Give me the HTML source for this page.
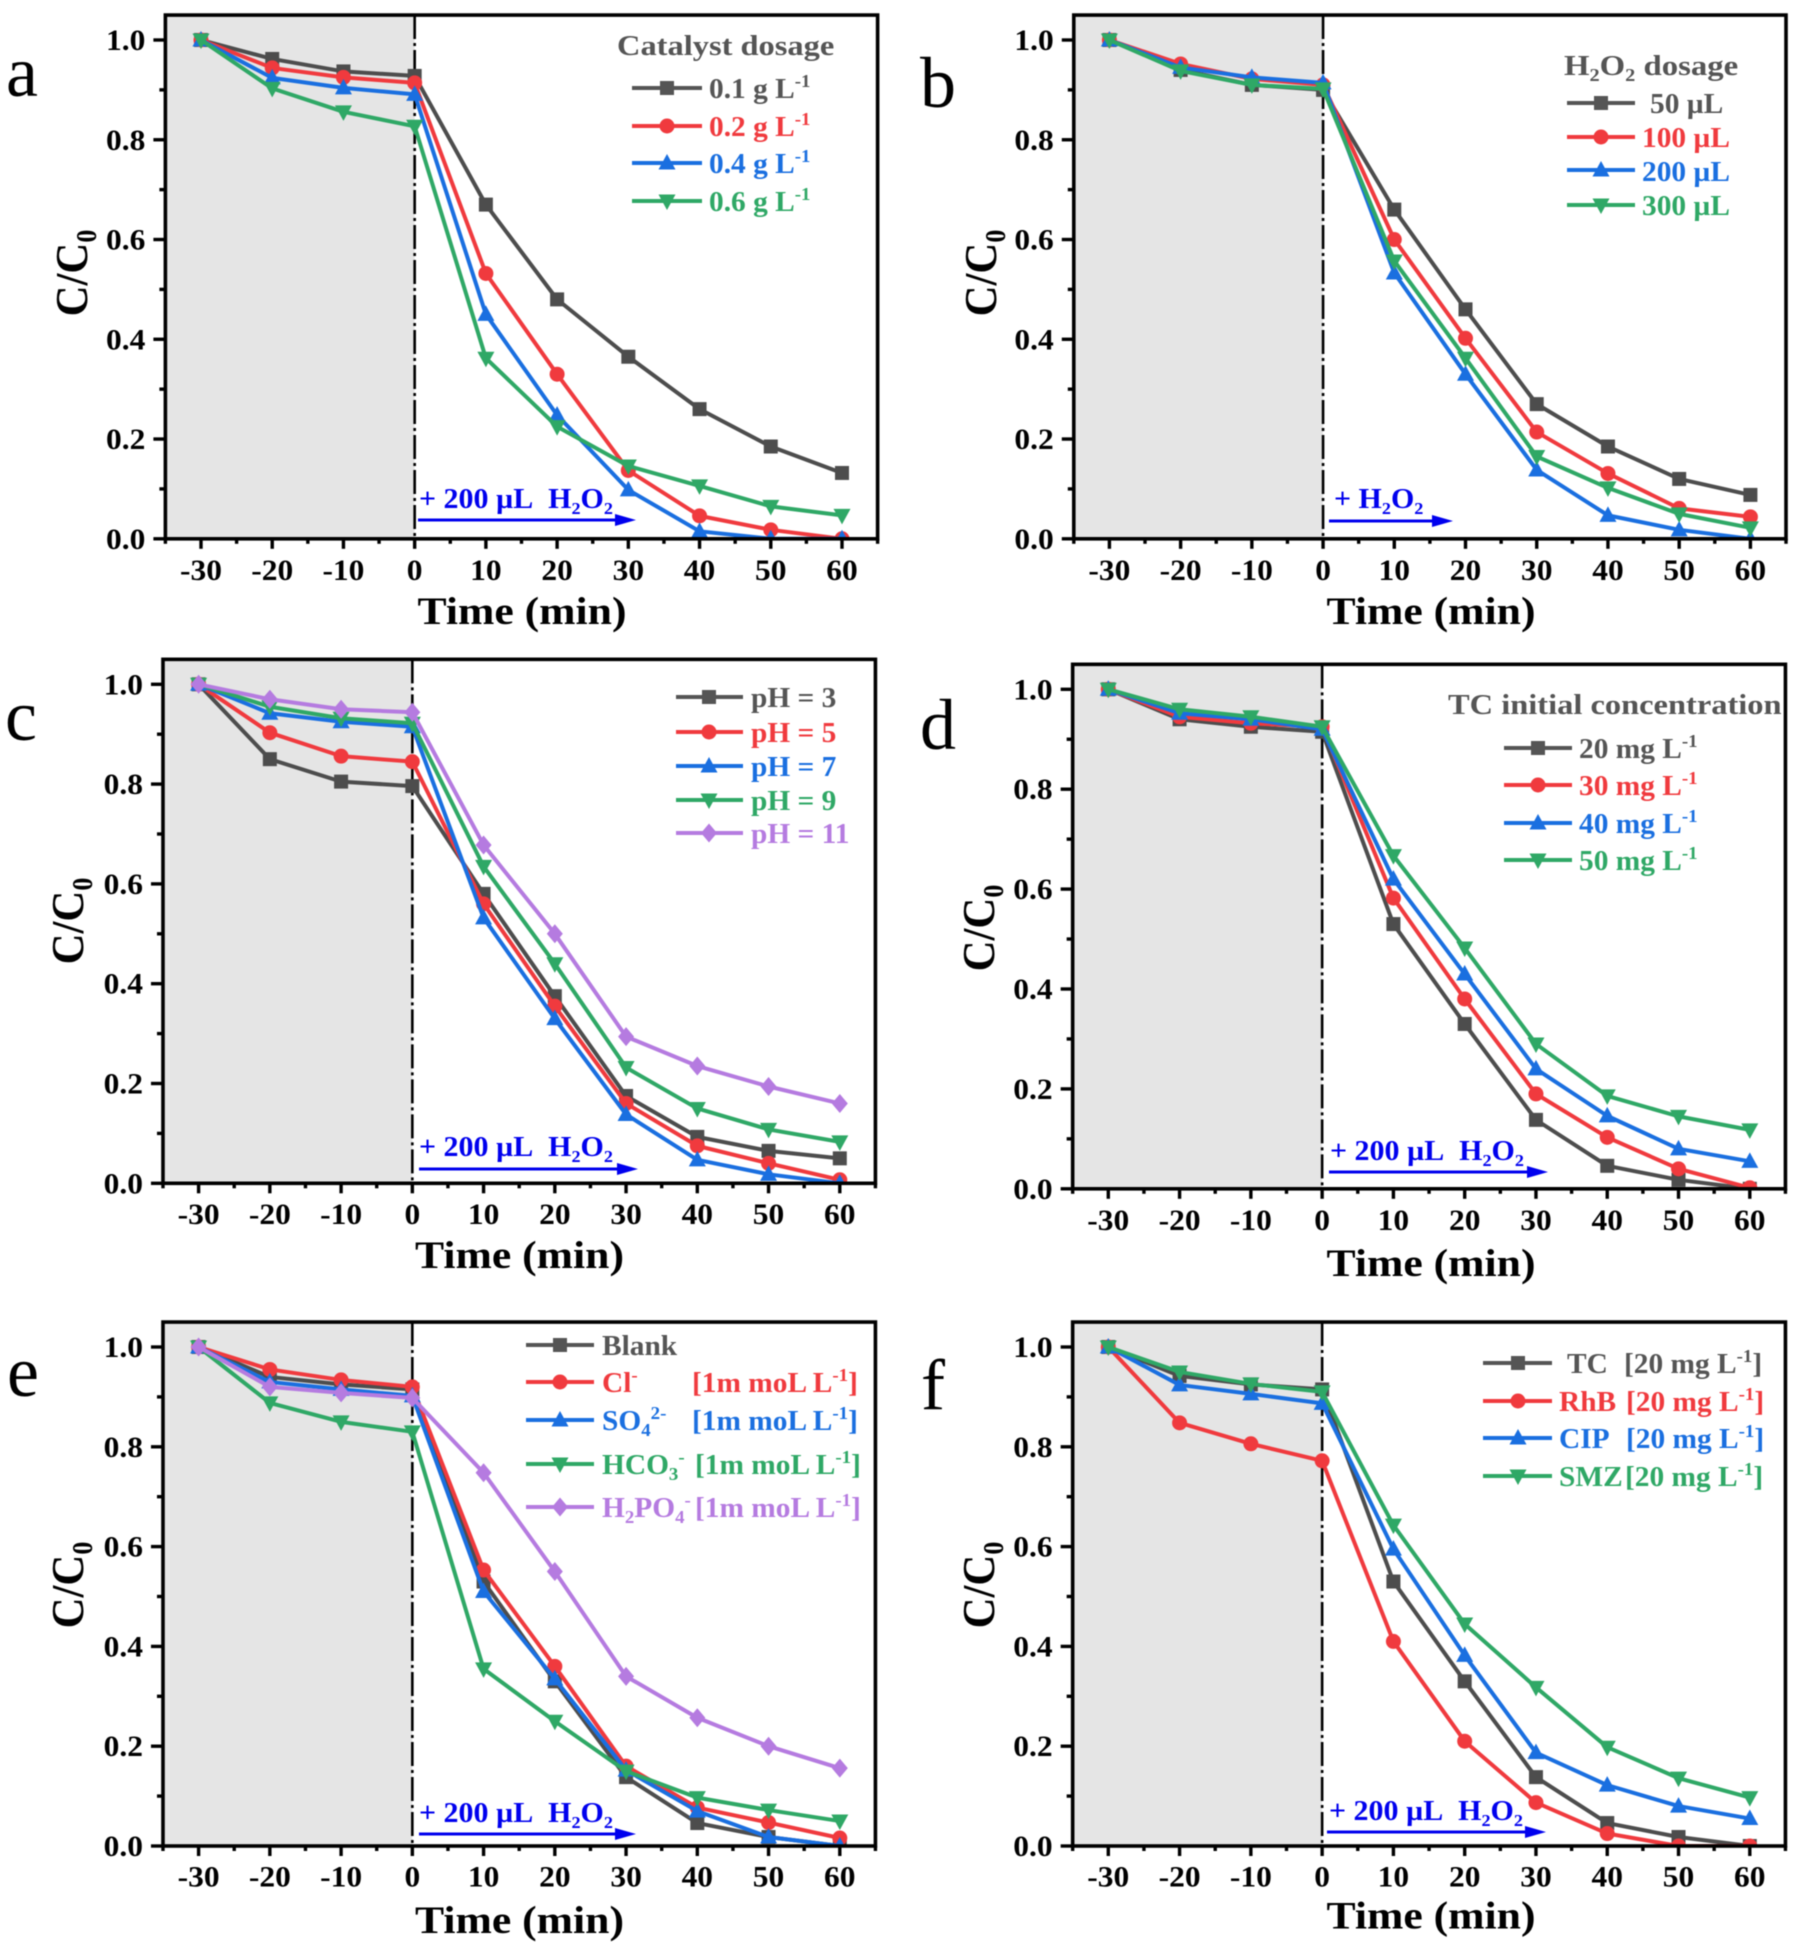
<!DOCTYPE html>
<html lang="en">
<head>
<meta charset="utf-8">
<title>C/C0 degradation curves, panels a to f</title>
<style>
  html, body { margin: 0; padding: 0; background: #fff; }
  svg { display: block; font-family: "Liberation Serif", "Noto Serif CJK SC", serif; font-weight: bold; filter: blur(0.55px); }
  .lg { font-size: 28px; }
  .lt { font-size: 29px; fill: #555; }
  .an { font-size: 28px; fill: #0000ee; }
  .at { font-size: 39px; fill: #000; text-anchor: middle; }
  .yt { font-size: 46px; fill: #000; text-anchor: middle; }
  .pl { font-size: 72px; font-weight: normal; fill: #000; }
  .gy { fill: #555; } .rd { fill: #f03a3e; } .bl { fill: #1a6fe0; } .gn { fill: #2fa866; } .pu { fill: #b57be0; }
</style>
</head>
<body>
<svg id="figure" xmlns="http://www.w3.org/2000/svg" width="1802" height="1952" viewBox="0 0 1802 1952">
  <defs>
    <rect id="m-square" x="-7" y="-7" width="14" height="14"/>
    <circle id="m-circle" r="7.5"/>
    <polygon id="m-up" points="0,-9 8.5,6.5 -8.5,6.5"/>
    <polygon id="m-down" points="0,9 8.5,-6.5 -8.5,-6.5"/>
    <polygon id="m-diamond" points="0,-9.5 8,0 0,9.5 -8,0"/>
  </defs>
  <rect width="1802" height="1952" fill="#fff"/>

  <g id="plot-a"></g>
  <g id="plot-b"></g>
  <g id="plot-c"></g>
  <g id="plot-d"></g>
  <g id="plot-e"></g>
  <g id="plot-f"></g>

  <!-- Panel letters -->
  <text class="pl" x="6" y="96">a</text>
  <text class="pl" x="920" y="107">b</text>
  <text class="pl" x="5" y="740">c</text>
  <text class="pl" x="920" y="749">d</text>
  <text class="pl" x="7" y="1396">e</text>
  <text class="pl" x="921" y="1409">f</text>

  <!-- Axis titles -->
  <text class="at" transform="translate(522,624) scale(1.12,1)">Time (min)</text>
  <text class="at" transform="translate(1431,624) scale(1.12,1)">Time (min)</text>
  <text class="at" transform="translate(519.5,1268) scale(1.12,1)">Time (min)</text>
  <text class="at" transform="translate(1431,1276) scale(1.12,1)">Time (min)</text>
  <text class="at" transform="translate(519.5,1933) scale(1.12,1)">Time (min)</text>
  <text class="at" transform="translate(1431,1928.5) scale(1.12,1)">Time (min)</text>

  <text class="yt" transform="translate(87,273) rotate(-90) scale(.93,1)">C/C<tspan dy="9" font-size="28">0</tspan></text>
  <text class="yt" transform="translate(996,273) rotate(-90) scale(.93,1)">C/C<tspan dy="9" font-size="28">0</tspan></text>
  <text class="yt" transform="translate(83,921) rotate(-90) scale(.93,1)">C/C<tspan dy="9" font-size="28">0</tspan></text>
  <text class="yt" transform="translate(994,928) rotate(-90) scale(.93,1)">C/C<tspan dy="9" font-size="28">0</tspan></text>
  <text class="yt" transform="translate(83,1585) rotate(-90) scale(.93,1)">C/C<tspan dy="9" font-size="28">0</tspan></text>
  <text class="yt" transform="translate(994,1585) rotate(-90) scale(.93,1)">C/C<tspan dy="9" font-size="28">0</tspan></text>

  <!-- Annotations -->
  <text class="an" transform="translate(419,508) scale(1.07,1)">+ 200 µL&#160;&#160;H<tspan dy="6" font-size="17">2</tspan><tspan dy="-6">O</tspan><tspan dy="6" font-size="17">2</tspan></text>
  <text class="an" transform="translate(1334,508) scale(1.07,1)">+ H<tspan dy="6" font-size="17">2</tspan><tspan dy="-6">O</tspan><tspan dy="6" font-size="17">2</tspan></text>
  <text class="an" transform="translate(419,1156) scale(1.07,1)">+ 200 µL&#160;&#160;H<tspan dy="6" font-size="17">2</tspan><tspan dy="-6">O</tspan><tspan dy="6" font-size="17">2</tspan></text>
  <text class="an" transform="translate(1330,1160) scale(1.07,1)">+ 200 µL&#160;&#160;H<tspan dy="6" font-size="17">2</tspan><tspan dy="-6">O</tspan><tspan dy="6" font-size="17">2</tspan></text>
  <text class="an" transform="translate(419,1822) scale(1.07,1)">+ 200 µL&#160;&#160;H<tspan dy="6" font-size="17">2</tspan><tspan dy="-6">O</tspan><tspan dy="6" font-size="17">2</tspan></text>
  <text class="an" transform="translate(1329,1820) scale(1.07,1)">+ 200 µL&#160;&#160;H<tspan dy="6" font-size="17">2</tspan><tspan dy="-6">O</tspan><tspan dy="6" font-size="17">2</tspan></text>

  <g stroke="#0000ee" fill="#0000ee">
    <line x1="418" y1="520" x2="620" y2="520" stroke-width="3"/>
    <polygon stroke="none" points="615,514 636,520 615,526"/>
    <line x1="1329" y1="521" x2="1438" y2="521" stroke-width="3"/>
    <polygon stroke="none" points="1432,515 1453,521 1432,527"/>
    <line x1="419" y1="1169" x2="622" y2="1169" stroke-width="3"/>
    <polygon stroke="none" points="617,1163 638,1169 617,1175"/>
    <line x1="1329" y1="1172" x2="1532" y2="1172" stroke-width="3"/>
    <polygon stroke="none" points="1527,1166 1548,1172 1527,1178"/>
    <line x1="419" y1="1834" x2="620" y2="1834" stroke-width="3"/>
    <polygon stroke="none" points="615,1828 636,1834 615,1840"/>
    <line x1="1327" y1="1832" x2="1530" y2="1832" stroke-width="3"/>
    <polygon stroke="none" points="1525,1826 1546,1832 1525,1838"/>
  </g>

  <!-- Legend a -->
  <g>
    <text class="lt" transform="translate(617,55) scale(1.12,1)">Catalyst dosage</text>
    <g><line x1="632" y1="88" x2="702" y2="88" stroke="#555" stroke-width="4"/><use href="#m-square" x="667" y="88" fill="#555"/><text class="lg gy" transform="translate(709,98) scale(1.05,1)">0.1 g L<tspan dy="-11" font-size="18">-1</tspan></text></g>
    <g><line x1="632" y1="126" x2="702" y2="126" stroke="#f03a3e" stroke-width="4"/><use href="#m-circle" x="667" y="126" fill="#f03a3e"/><text class="lg rd" transform="translate(709,136) scale(1.05,1)">0.2 g L<tspan dy="-11" font-size="18">-1</tspan></text></g>
    <g><line x1="632" y1="163" x2="702" y2="163" stroke="#1a6fe0" stroke-width="4"/><use href="#m-up" x="667" y="163" fill="#1a6fe0"/><text class="lg bl" transform="translate(709,173) scale(1.05,1)">0.4 g L<tspan dy="-11" font-size="18">-1</tspan></text></g>
    <g><line x1="632" y1="201" x2="702" y2="201" stroke="#2fa866" stroke-width="4"/><use href="#m-down" x="667" y="201" fill="#2fa866"/><text class="lg gn" transform="translate(709,211) scale(1.05,1)">0.6 g L<tspan dy="-11" font-size="18">-1</tspan></text></g>
  </g>

  <!-- Legend b -->
  <g transform="translate(0,-1)">
    <text class="lt" transform="translate(1564,76) scale(1.13,1)">H<tspan dy="6" font-size="18">2</tspan><tspan dy="-6">O</tspan><tspan dy="6" font-size="18">2</tspan><tspan dy="-6"> dosage</tspan></text>
    <g><line x1="1567" y1="104" x2="1635" y2="104" stroke="#555" stroke-width="4"/><use href="#m-square" x="1601" y="104" fill="#555"/><text class="lg gy" transform="translate(1650,114) scale(1.05,1)">50 µL</text></g>
    <g><line x1="1567" y1="138" x2="1635" y2="138" stroke="#f03a3e" stroke-width="4"/><use href="#m-circle" x="1601" y="138" fill="#f03a3e"/><text class="lg rd" transform="translate(1642,148) scale(1.05,1)">100 µL</text></g>
    <g><line x1="1567" y1="171" x2="1635" y2="171" stroke="#1a6fe0" stroke-width="4"/><use href="#m-up" x="1601" y="171" fill="#1a6fe0"/><text class="lg bl" transform="translate(1642,182) scale(1.05,1)">200 µL</text></g>
    <g><line x1="1567" y1="206" x2="1635" y2="206" stroke="#2fa866" stroke-width="4"/><use href="#m-down" x="1601" y="206" fill="#2fa866"/><text class="lg gn" transform="translate(1642,216) scale(1.05,1)">300 µL</text></g>
  </g>

  <!-- Legend c -->
  <g transform="translate(0,-1)">
    <g><line x1="676" y1="698" x2="743" y2="698" stroke="#555" stroke-width="4"/><use href="#m-square" x="709" y="698" fill="#555"/><text class="lg gy" transform="translate(751,708) scale(1.05,1)">pH = 3</text></g>
    <g><line x1="676" y1="733" x2="743" y2="733" stroke="#f03a3e" stroke-width="4"/><use href="#m-circle" x="709" y="733" fill="#f03a3e"/><text class="lg rd" transform="translate(751,743) scale(1.05,1)">pH = 5</text></g>
    <g><line x1="676" y1="767" x2="743" y2="767" stroke="#1a6fe0" stroke-width="4"/><use href="#m-up" x="709" y="767" fill="#1a6fe0"/><text class="lg bl" transform="translate(751,777) scale(1.05,1)">pH = 7</text></g>
    <g><line x1="676" y1="801" x2="743" y2="801" stroke="#2fa866" stroke-width="4"/><use href="#m-down" x="709" y="801" fill="#2fa866"/><text class="lg gn" transform="translate(751,811) scale(1.05,1)">pH = 9</text></g>
    <g><line x1="676" y1="834" x2="743" y2="834" stroke="#b57be0" stroke-width="4"/><use href="#m-diamond" x="709" y="834" fill="#b57be0"/><text class="lg pu" transform="translate(751,844) scale(1.05,1)">pH = 11</text></g>
  </g>

  <!-- Legend d -->
  <g transform="translate(0,-1)">
    <text class="lt" transform="translate(1448,715) scale(1.12,1)">TC initial concentration</text>
    <g><line x1="1504" y1="749" x2="1572" y2="749" stroke="#555" stroke-width="4"/><use href="#m-square" x="1538" y="749" fill="#555"/><text class="lg gy" transform="translate(1579,759) scale(1.05,1)">20 mg L<tspan dy="-11" font-size="18">-1</tspan></text></g>
    <g><line x1="1504" y1="786" x2="1572" y2="786" stroke="#f03a3e" stroke-width="4"/><use href="#m-circle" x="1538" y="786" fill="#f03a3e"/><text class="lg rd" transform="translate(1579,796) scale(1.05,1)">30 mg L<tspan dy="-11" font-size="18">-1</tspan></text></g>
    <g><line x1="1504" y1="824" x2="1572" y2="824" stroke="#1a6fe0" stroke-width="4"/><use href="#m-up" x="1538" y="824" fill="#1a6fe0"/><text class="lg bl" transform="translate(1579,834) scale(1.05,1)">40 mg L<tspan dy="-11" font-size="18">-1</tspan></text></g>
    <g><line x1="1504" y1="861" x2="1572" y2="861" stroke="#2fa866" stroke-width="4"/><use href="#m-down" x="1538" y="861" fill="#2fa866"/><text class="lg gn" transform="translate(1579,871) scale(1.05,1)">50 mg L<tspan dy="-11" font-size="18">-1</tspan></text></g>
  </g>

  <!-- Legend e -->
  <g transform="translate(0,-1)">
    <g><line x1="526" y1="1346" x2="594" y2="1346" stroke="#555" stroke-width="4"/><use href="#m-square" x="560" y="1346" fill="#555"/><text class="lg gy" transform="translate(602,1356) scale(1.05,1)">Blank</text></g>
    <g><line x1="526" y1="1383" x2="594" y2="1383" stroke="#f03a3e" stroke-width="4"/><use href="#m-circle" x="560" y="1383" fill="#f03a3e"/><text class="lg rd" transform="translate(602,1393) scale(1.05,1)">Cl<tspan dy="-11" font-size="18">-</tspan></text><text class="lg rd" transform="translate(692,1393) scale(1.05,1)">[1m moL L<tspan dy="-11" font-size="18">-1</tspan><tspan dy="11">]</tspan></text></g>
    <g><line x1="526" y1="1421" x2="594" y2="1421" stroke="#1a6fe0" stroke-width="4"/><use href="#m-up" x="560" y="1421" fill="#1a6fe0"/><text class="lg bl" transform="translate(602,1431) scale(1.05,1)">SO<tspan dy="6" font-size="18">4</tspan><tspan dy="-17" font-size="18">2-</tspan></text><text class="lg bl" transform="translate(692,1431) scale(1.05,1)">[1m moL L<tspan dy="-11" font-size="18">-1</tspan><tspan dy="11">]</tspan></text></g>
    <g><line x1="526" y1="1465" x2="594" y2="1465" stroke="#2fa866" stroke-width="4"/><use href="#m-down" x="560" y="1465" fill="#2fa866"/><text class="lg gn" transform="translate(602,1475) scale(1.05,1)">HCO<tspan dy="6" font-size="18">3</tspan><tspan dy="-17" font-size="18">-</tspan></text><text class="lg gn" transform="translate(695,1475) scale(1.05,1)">[1m moL L<tspan dy="-11" font-size="18">-1</tspan><tspan dy="11">]</tspan></text></g>
    <g><line x1="526" y1="1508" x2="594" y2="1508" stroke="#b57be0" stroke-width="4"/><use href="#m-diamond" x="560" y="1508" fill="#b57be0"/><text class="lg pu" transform="translate(602,1518) scale(1.05,1)">H<tspan dy="6" font-size="18">2</tspan><tspan dy="-6">PO</tspan><tspan dy="6" font-size="18">4</tspan><tspan dy="-17" font-size="18">-</tspan></text><text class="lg pu" transform="translate(695,1518) scale(1.05,1)">[1m moL L<tspan dy="-11" font-size="18">-1</tspan><tspan dy="11">]</tspan></text></g>
  </g>

  <!-- Legend f -->
  <g>
    <g><line x1="1483" y1="1363" x2="1552" y2="1363" stroke="#555" stroke-width="4"/><use href="#m-square" x="1518" y="1363" fill="#555"/><text class="lg gy" transform="translate(1567,1373) scale(1.05,1)">TC</text><text class="lg gy" transform="translate(1624,1373) scale(1.05,1)">[20 mg L<tspan dy="-11" font-size="18">-1</tspan><tspan dy="11">]</tspan></text></g>
    <g><line x1="1483" y1="1401" x2="1552" y2="1401" stroke="#f03a3e" stroke-width="4"/><use href="#m-circle" x="1518" y="1401" fill="#f03a3e"/><text class="lg rd" transform="translate(1559,1411) scale(1.05,1)">RhB</text><text class="lg rd" transform="translate(1626,1411) scale(1.05,1)">[20 mg L<tspan dy="-11" font-size="18">-1</tspan><tspan dy="11">]</tspan></text></g>
    <g><line x1="1483" y1="1438" x2="1552" y2="1438" stroke="#1a6fe0" stroke-width="4"/><use href="#m-up" x="1518" y="1438" fill="#1a6fe0"/><text class="lg bl" transform="translate(1559,1448) scale(1.05,1)">CIP</text><text class="lg bl" transform="translate(1626,1448) scale(1.05,1)">[20 mg L<tspan dy="-11" font-size="18">-1</tspan><tspan dy="11">]</tspan></text></g>
    <g><line x1="1483" y1="1476" x2="1552" y2="1476" stroke="#2fa866" stroke-width="4"/><use href="#m-down" x="1518" y="1476" fill="#2fa866"/><text class="lg gn" transform="translate(1559,1486) scale(1.05,1)">SMZ</text><text class="lg gn" transform="translate(1625,1486) scale(1.05,1)">[20 mg L<tspan dy="-11" font-size="18">-1</tspan><tspan dy="11">]</tspan></text></g>
  </g>
</svg>

<script>
// Shared axes
const timeCategories = [-30, -20, -10, 0, 10, 20, 30, 40, 50, 60];
const xTickLabels = ["-30", "-20", "-10", "0", "10", "20", "30", "40", "50", "60"];
const yTickValues = [0, 0.2, 0.4, 0.6, 0.8, 1.0];
const yTickLabels = ["0.0", "0.2", "0.4", "0.6", "0.8", "1.0"];

// Panel a: catalyst dosage
const aDose01 = [1, 0.962, 0.937, 0.928, 0.67, 0.48, 0.365, 0.26, 0.185, 0.132];
const aDose02 = [1, 0.944, 0.925, 0.914, 0.532, 0.33, 0.137, 0.046, 0.018, 0];
const aDose04 = [1, 0.924, 0.904, 0.891, 0.45, 0.248, 0.098, 0.015, 0, 0];
const aDose06 = [1, 0.903, 0.856, 0.827, 0.362, 0.225, 0.146, 0.106, 0.065, 0.047];

// Panel b: H2O2 dosage
const bUl50 = [1, 0.94, 0.91, 0.9, 0.66, 0.46, 0.27, 0.185, 0.12, 0.088];
const bUl100 = [1, 0.952, 0.922, 0.91, 0.6, 0.402, 0.214, 0.131, 0.061, 0.044];
const bUl200 = [1, 0.945, 0.925, 0.914, 0.533, 0.33, 0.138, 0.047, 0.018, 0];
const bUl300 = [1, 0.938, 0.91, 0.902, 0.557, 0.362, 0.165, 0.102, 0.05, 0.022];

// Panel c: pH
const cPh3 = [1, 0.85, 0.805, 0.796, 0.58, 0.375, 0.175, 0.093, 0.065, 0.05];
const cPh5 = [1, 0.903, 0.856, 0.845, 0.56, 0.355, 0.16, 0.075, 0.04, 0.007];
const cPh7 = [1, 0.942, 0.925, 0.915, 0.532, 0.33, 0.138, 0.047, 0.018, 0];
const cPh9 = [1, 0.955, 0.932, 0.922, 0.635, 0.44, 0.232, 0.15, 0.108, 0.083];
const cPh11 = [1, 0.97, 0.95, 0.944, 0.678, 0.5, 0.294, 0.235, 0.194, 0.16];

// Panel d: TC initial concentration
const dMg20 = [1, 0.94, 0.925, 0.915, 0.53, 0.33, 0.138, 0.046, 0.018, 0];
const dMg30 = [1, 0.945, 0.932, 0.925, 0.582, 0.38, 0.19, 0.103, 0.04, 0.002];
const dMg40 = [1, 0.952, 0.94, 0.92, 0.62, 0.43, 0.24, 0.146, 0.08, 0.055];
const dMg50 = [1, 0.96, 0.945, 0.925, 0.667, 0.482, 0.29, 0.186, 0.145, 0.118];

// Panel e: co-existing anions
const eBlank = [1, 0.94, 0.925, 0.915, 0.53, 0.33, 0.138, 0.046, 0.018, 0];
const eCl = [1, 0.955, 0.934, 0.92, 0.553, 0.36, 0.16, 0.077, 0.047, 0.016];
const eSo4 = [1, 0.93, 0.915, 0.902, 0.51, 0.335, 0.152, 0.07, 0.018, 0];
const eHco3 = [1, 0.888, 0.85, 0.83, 0.355, 0.25, 0.15, 0.097, 0.072, 0.05];
const eH2po4 = [1, 0.92, 0.908, 0.898, 0.748, 0.55, 0.34, 0.257, 0.2, 0.156];

// Panel f: pollutants
const fTc = [1, 0.942, 0.925, 0.915, 0.53, 0.33, 0.138, 0.046, 0.018, 0];
const fRhb = [1, 0.848, 0.806, 0.772, 0.41, 0.21, 0.087, 0.025, 0, 0];
const fCip = [1, 0.924, 0.906, 0.887, 0.595, 0.382, 0.187, 0.122, 0.08, 0.055];
const fSmz = [1, 0.95, 0.926, 0.91, 0.643, 0.445, 0.318, 0.198, 0.136, 0.097];

const GREY = "#4d4d4d", RED = "#f03a3e", BLUE = "#1a6fe0", GREEN = "#2fa866", PURPLE = "#b57be0";

const panels = [
  { id: "a", xA: 201, xB: 842, yZero: 538.8, yOne: 40, tickY: 580,
    series: [[aDose01, GREY, "square"], [aDose02, RED, "circle"], [aDose04, BLUE, "up"], [aDose06, GREEN, "down"]] },
  { id: "b", xA: 1109.4, xB: 1750.4, yZero: 538.8, yOne: 40, tickY: 580,
    series: [[bUl50, GREY, "square"], [bUl100, RED, "circle"], [bUl200, BLUE, "up"], [bUl300, GREEN, "down"]] },
  { id: "c", xA: 198.6, xB: 839.8, yZero: 1183.3, yOne: 684.3, tickY: 1224,
    series: [[cPh3, GREY, "square"], [cPh5, RED, "circle"], [cPh7, BLUE, "up"], [cPh9, GREEN, "down"], [cPh11, PURPLE, "diamond"]] },
  { id: "d", xA: 1108.3, xB: 1749.8, yZero: 1188.8, yOne: 689.3, tickY: 1230,
    series: [[dMg20, GREY, "square"], [dMg30, RED, "circle"], [dMg40, BLUE, "up"], [dMg50, GREEN, "down"]] },
  { id: "e", xA: 198.6, xB: 839.8, yZero: 1846, yOne: 1347, tickY: 1886.5,
    series: [[eBlank, GREY, "square"], [eCl, RED, "circle"], [eSo4, BLUE, "up"], [eHco3, GREEN, "down"], [eH2po4, PURPLE, "diamond"]] },
  { id: "f", xA: 1108.3, xB: 1749.8, yZero: 1846, yOne: 1347, tickY: 1886.5,
    series: [[fTc, GREY, "square"], [fRhb, RED, "circle"], [fCip, BLUE, "up"], [fSmz, GREEN, "down"]] }
];

const NS = "http://www.w3.org/2000/svg";
function make(tag, parent, props) {
  const node = document.createElementNS(NS, tag);
  for (const key in props) node.setAttribute(key, props[key]);
  parent.appendChild(node);
  return node;
}

panels.forEach(function (p) {
  const root = document.getElementById("plot-" + p.id);
  const xScale = function (v) { return p.xA + (v - timeCategories[0]) * (p.xB - p.xA) / 90; };
  const yScale = function (v) { return p.yZero - v * (p.yZero - p.yOne); };
  const left = xScale(-35), right = xScale(65), top = yScale(1.05), bottom = yScale(0);

  const clip = make("clipPath", root, { id: "clip-" + p.id });
  
  
  const clipRect = make("rect", clip, { x: left, y: top, width: right - left, height: bottom - top });
  
  

  const shade = make("rect", root, { x: left, y: top, width: xScale(0) - left, height: bottom - top, fill: "#e5e5e5" });
  
  

  const divider = make("line", root, { x1: xScale(0), x2: xScale(0), y1: top, y2: bottom, stroke: "#000", "stroke-width": 2.6, "stroke-dasharray": "24 4 3 4" });
  
  

  // minor x ticks
  for (let v = -35; v <= 65; v += 10) {
    const minorX = make("line", root, { x1: xScale(v), x2: xScale(v), y1: bottom, y2: bottom + 5, stroke: "#000", "stroke-width": 3.4 });
    
    
  }
  // major x ticks + labels
  timeCategories.forEach(function (v, i) {
    const tick = make("line", root, { x1: xScale(v), x2: xScale(v), y1: bottom, y2: bottom + 10, stroke: "#000", "stroke-width": 3.4 });
    
    
    const label = make("text", root, { transform: "translate(" + xScale(v) + "," + p.tickY + ") scale(1.05,1)", "text-anchor": "middle", "font-size": 30, fill: "#000" });
    
    
    label.textContent = xTickLabels[i];
  });
  // y ticks + labels
  yTickValues.forEach(function (v, i) {
    const tick = make("line", root, { x1: left - 12, x2: left, y1: yScale(v), y2: yScale(v), stroke: "#000", "stroke-width": 3.4 });
    
    
    if (i < yTickValues.length - 1) {
      const minor = make("line", root, { x1: left - 6, x2: left, y1: yScale(v + 0.1), y2: yScale(v + 0.1), stroke: "#000", "stroke-width": 3.4 });
      
      
    }
    const label = make("text", root, { transform: "translate(" + (left - 20) + "," + (yScale(v) + 10) + ") scale(1.05,1)", "text-anchor": "end", "font-size": 30, fill: "#000" });
    
    
    label.textContent = yTickLabels[i];
  });

  // series, clipped to the plot frame so points on zero stop at the axis
  p.series.forEach(function (s, si) {
    const values = s[0], color = s[1], marker = s[2];
    const group = make("g", root, { "clip-path": "url(#clip-" + p.id + ")" });
    
    
    const path = make("polyline", group, {
      points: values.map(function (v, i) { return xScale(timeCategories[i]) + "," + yScale(v); }).join(" "),
      fill: "none", stroke: color, "stroke-width": 4, "stroke-linejoin": "round"
    });
    
    
    values.forEach(function (v, i) {
      const point = make("use", group, { href: "#m-" + marker, x: xScale(timeCategories[i]), y: yScale(v), fill: color });
      
      
    });
  });

  const frame = make("rect", root, { x: left, y: top, width: right - left, height: bottom - top, fill: "none", stroke: "#000", "stroke-width": 3.6 });
  
  
});
</script>
</body>
</html>
